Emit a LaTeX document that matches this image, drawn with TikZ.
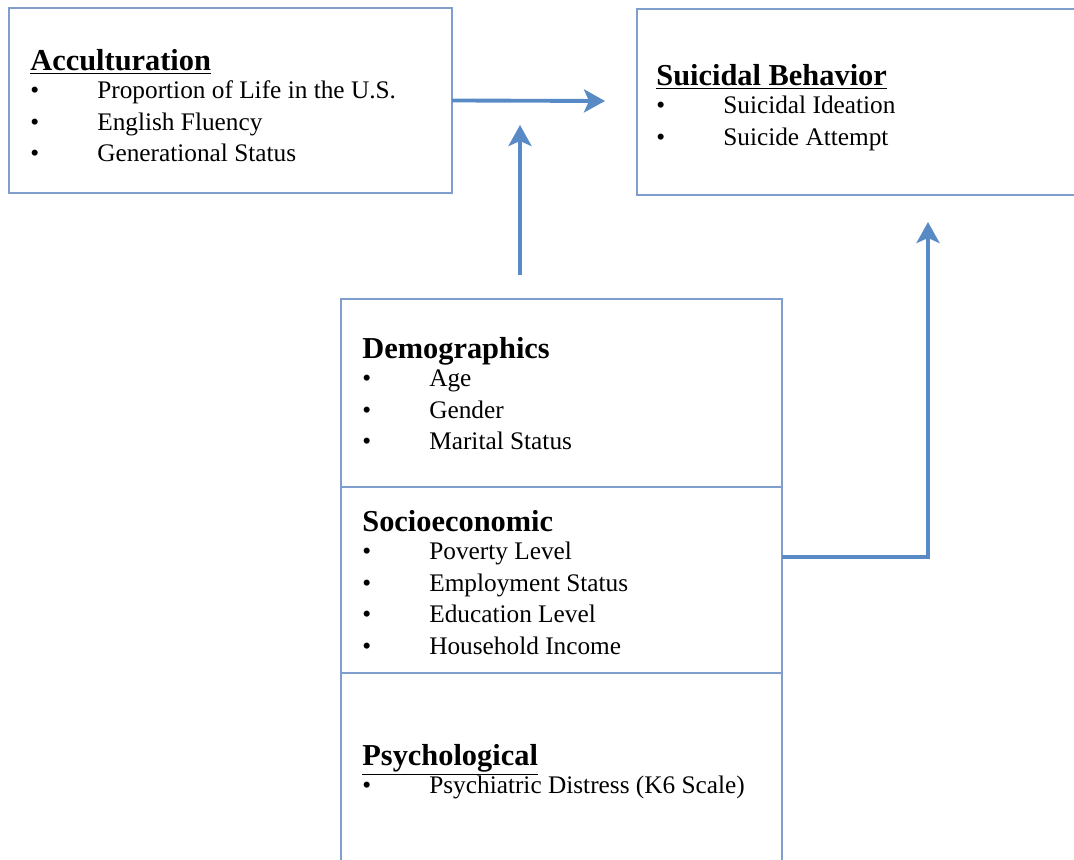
\documentclass[tikz,border=0pt]{standalone}
\usepackage{fontspec}
\setmainfont{Liberation Serif}
\usetikzlibrary{arrows.meta,positioning}

\definecolor{boxblue}{RGB}{128,158,204}
\definecolor{arrowblue}{RGB}{88,138,198}

\newcommand{\hd}[1]{{\fontsize{17.3}{20}\selectfont\bfseries #1}}
\newcommand{\hdu}[1]{\hd{\underline{#1}}}
\newcommand{\itm}[1]{\makebox[1.34cm][l]{\textbullet}#1}

\tikzset{
  panel/.style={draw=boxblue, line width=0.8pt, rectangle, inner sep=0pt, outer sep=0pt, minimum width=8.86cm},
  list/.style={anchor=north west, align=left, inner sep=0pt, font=\fontsize{14.4}{18.2}\selectfont},
  flow/.style={draw=arrowblue, line width=2.2pt, -{Stealth[length=0.42cm,width=0.46cm,inset=0.1cm]}}
}

\begin{document}
\begin{tikzpicture}[x=0.02cm,y=-0.02cm]
\useasboundingbox (0,0) rectangle (1074,859);
\clip (0,0) rectangle (1074,859);

% boxes
\node[panel, minimum height=3.7cm, anchor=north west] (acc) at (9,8) {};
\node[panel, minimum height=3.72cm, anchor=north west] (sb) at (637,9) {};
\node[panel, minimum width=8.82cm, minimum height=3.76cm, anchor=north west] (demo) at (341,299) {};
\node[panel, minimum width=8.82cm, minimum height=3.72cm, below=0pt of demo] (socio) {};
\node[panel, minimum width=8.82cm, minimum height=4cm, below=0pt of socio] (psy) {};

% texts
\node[list] (acctxt) at (30,49) {\hdu{Acculturation}\\[-2.5pt]
  \itm{Proportion of Life in the U.S.}\\ \itm{English Fluency}\\ \itm{Generational Status}};
\node[list] (sbtxt) at (656,64) {\hdu{Suicidal Behavior}\\[-2.5pt]
  \itm{Suicidal Ideation}\\ \itm{Suicide Attempt}};
\node[list] (demotxt) at (362,337) {\hd{Demographics}\\[-2.5pt]
  \itm{Age}\\ \itm{Gender}\\ \itm{Marital Status}};
\node[list] (sociotxt) at (362,510) {\hd{Socioeconomic}\\[-2.5pt]
  \itm{Poverty Level}\\ \itm{Employment Status}\\ \itm{Education Level}\\ \itm{Household Income}};
\node[list] (psytxt) at (362,744) {\hdu{Psychological}\\[-2.5pt]
  \itm{Psychiatric Distress (K6 Scale)}};

% arrows
\coordinate (sbin) at (605,101);
\coordinate (modfrom) at (520,275);
\coordinate (modto) at (520,125);
\coordinate (sefrom) at (782,557);
\coordinate (sbto) at (928,222);
\draw[flow] (acc.east) -- (sbin);
\draw[flow] (modfrom) -- (modto);
\draw[flow] (sefrom) -| (sbto);
\end{tikzpicture}
\end{document}
